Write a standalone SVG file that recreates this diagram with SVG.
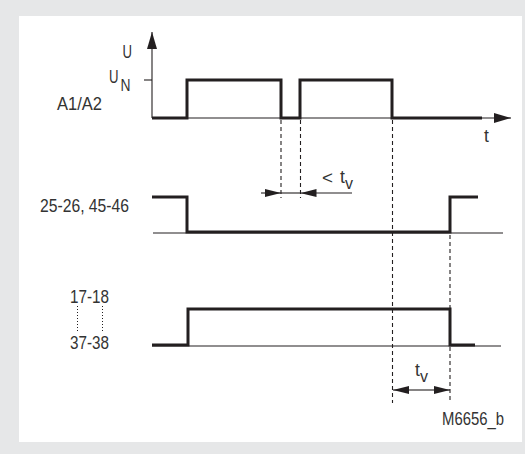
<svg xmlns="http://www.w3.org/2000/svg" width="525" height="454" viewBox="0 0 525 454">
<style>
text{font-family:"Liberation Sans",Arial,sans-serif;font-size:17.5px;fill:#333333}
.sub{font-size:16px}
.thin{stroke:#231f20;stroke-width:1.1;fill:none}
.thick{stroke:#231f20;stroke-width:3;fill:none;stroke-linejoin:miter}
.dash{stroke:#231f20;stroke-width:1.1;fill:none;stroke-dasharray:4,3}
.dot{stroke:#231f20;stroke-width:1;fill:none;stroke-dasharray:1,2}
</style>
<defs>
<marker id="ah" markerWidth="16" markerHeight="8" refX="16" refY="4" orient="auto" markerUnits="userSpaceOnUse">
<path d="M0,0 L16,4 L0,8 Z" fill="#231f20"/>
</marker>
<marker id="ax" markerWidth="17" markerHeight="10" refX="17" refY="5" orient="auto" markerUnits="userSpaceOnUse">
<path d="M0,0 L17,5 L0,10 Z" fill="#231f20"/>
</marker>
</defs>
<rect x="0" y="0" width="525" height="454" fill="#e6e7e8"/>
<rect x="19" y="16" width="503" height="426" fill="#ffffff"/>

<g id="labels">
<text x="122.5" y="58" textLength="9.5" lengthAdjust="spacingAndGlyphs">U</text>
<text x="109" y="83" textLength="9.5" lengthAdjust="spacingAndGlyphs">U</text><text class="sub" x="120.5" y="91" textLength="10" lengthAdjust="spacingAndGlyphs">N</text>
<text x="57" y="110" textLength="45" lengthAdjust="spacingAndGlyphs">A1/A2</text>
<text x="484" y="142">t</text>
<text x="40" y="212" textLength="89" lengthAdjust="spacingAndGlyphs">25-26, 45-46</text>
<text x="70" y="302.5" textLength="39" lengthAdjust="spacingAndGlyphs">17-18</text>
<text x="70" y="349" textLength="39" lengthAdjust="spacingAndGlyphs">37-38</text>
<line class="dot" x1="77.5" y1="306" x2="77.5" y2="331"/>
<line class="dot" x1="102.5" y1="306" x2="102.5" y2="331"/>
<text x="442" y="425" textLength="62" lengthAdjust="spacingAndGlyphs">M6656_b</text>
</g>

<g id="axes">
<line class="thin" x1="152" y1="118" x2="152" y2="32" marker-end="url(#ax)"/>
<line class="thin" x1="152" y1="118" x2="511" y2="118" marker-end="url(#ax)"/>
<line class="thin" x1="144" y1="80" x2="152" y2="80"/>
</g>

<g id="signal-A1A2">
<polyline class="thick" points="152,118 187,118 187,80 281,80 281,118 300,118 300,80 392,80 392,118 482,118"/>
</g>

<g id="signal-25-26">
<line class="thin" x1="153" y1="233" x2="503" y2="233"/>
<polyline class="thick" points="152,197 187,197 187,232 450,232 450,197 478,197"/>
</g>

<g id="signal-17-18">
<line class="thin" x1="152" y1="346" x2="501" y2="346"/>
<polyline class="thick" points="152,345 188,345 188,309 450,309 450,345 475,345"/>
</g>

<g id="connectors">
<line class="dash" x1="281" y1="120" x2="281" y2="198"/>
<line class="dash" x1="300.5" y1="120" x2="300.5" y2="198"/>
<line class="dash" x1="392.5" y1="120" x2="392.5" y2="403"/>
<line class="dash" x1="450" y1="235" x2="450" y2="403"/>
<line class="thin" x1="261" y1="193" x2="281" y2="193" marker-end="url(#ah)"/>
<line class="thin" x1="281" y1="193" x2="300.5" y2="193"/>
<line class="thin" x1="352" y1="193" x2="300.5" y2="193" marker-end="url(#ah)"/>
<line class="thin" x1="420" y1="390" x2="393" y2="390" marker-end="url(#ah)"/>
<line class="thin" x1="420" y1="390" x2="450" y2="390" marker-end="url(#ah)"/>
</g>

<g id="dim-labels">
<text x="322" y="184" textLength="11" lengthAdjust="spacingAndGlyphs">&lt;</text>
<text x="340" y="183">t</text><text class="sub" x="345" y="189">v</text>
<text x="415" y="376">t</text><text class="sub" x="420" y="382">v</text>
</g>
</svg>
